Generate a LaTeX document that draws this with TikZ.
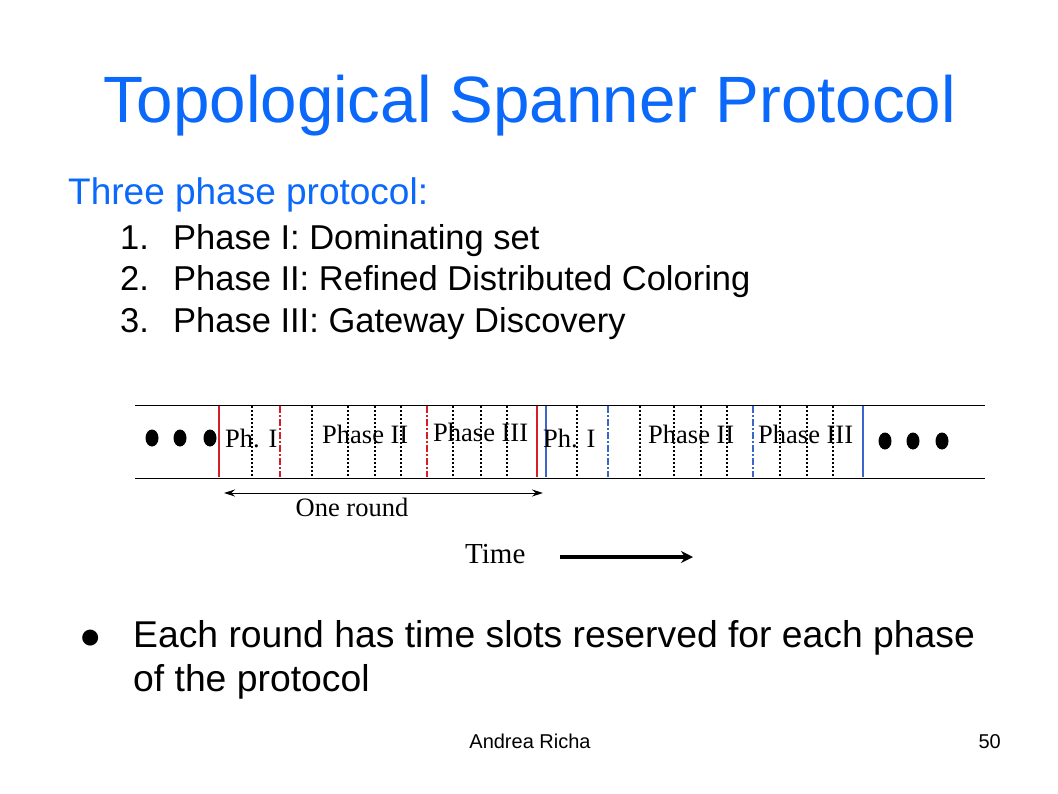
\documentclass[tikz,border=0pt]{standalone}
\usepackage{fontspec}
\setmainfont{Liberation Sans}
\newfontfamily\tnr{Liberation Serif}
\usetikzlibrary{arrows.meta}
\definecolor{titleblue}{RGB}{10,104,250}
\definecolor{lred}{RGB}{214,30,40}
\definecolor{lblue}{RGB}{60,100,205}
\begin{document}
\begin{tikzpicture}[x=1pt,y=-1pt,
  txt/.style={inner sep=0pt, anchor=base west},
  ctxt/.style={inner sep=0pt, anchor=base},
  railline/.style={line width=1pt, black},
  dotline/.style={line width=1.8pt, black, dash pattern=on 2pt off 2pt},
  redsolid/.style={line width=1.6pt, lred},
  reddash/.style={line width=1.6pt, lred, dash pattern=on 7pt off 2pt on 2pt off 2pt},
  bluesolid/.style={line width=1.6pt, lblue},
  bluedash/.style={line width=1.6pt, lblue, dash pattern=on 7pt off 2pt on 2pt off 2pt},
  phlabel/.style={txt, font=\tnr\fontsize{26.5}{30}\selectfont},
  listfont/.style={font=\fontsize{34.5}{41}\selectfont},
]
\useasboundingbox (0,0) rectangle (1058,793);
\fill[white] (0,0) rectangle (1058,793);

% title
\node[ctxt, text=titleblue, font=\fontsize{65.5}{78}\selectfont] (title) at (530,122) {Topological Spanner Protocol};

% intro
\node[txt, text=titleblue, font=\fontsize{37}{44}\selectfont] (intro) at (68,204) {Three phase protocol:};
\foreach \n/\t/\y in {1/{Phase I: Dominating set}/249, 2/{Phase II: Refined Distributed Coloring}/290, 3/{Phase III: Gateway Discovery}/332}{
  \node[txt, listfont] (num\n) at (120,\y) {\n.};
  \node[txt, listfont] (item\n) at (173,\y) {\t};
}

% timeline rails
\coordinate (tl) at (135,405); \coordinate (tr) at (985,405);
\coordinate (bl) at (135,478); \coordinate (br) at (985,478);
\draw[railline] (tl) -- (tr);
\draw[railline] (bl) -- (br);

% dotted slot separators
\foreach \x in {252,312,348,375,401,453,481,507,577,640,674,701,727,780,807,833}{
  \coordinate (dt\x) at (\x,406); \coordinate (db\x) at (\x,477);
  \draw[dotline] (dt\x) -- (db\x);
}
% phase boundaries
\coordinate (r1t) at (219,406); \coordinate (r1b) at (219,477);
\coordinate (r2t) at (537,406); \coordinate (r2b) at (537,477);
\draw[redsolid] (r1t) -- (r1b);
\draw[redsolid] (r2t) -- (r2b);
\coordinate (rd1t) at (280,406); \coordinate (rd1b) at (280,477);
\coordinate (rd2t) at (427,406); \coordinate (rd2b) at (427,477);
\draw[reddash] (rd1t) -- (rd1b);
\draw[reddash] (rd2t) -- (rd2b);
\coordinate (b1t) at (546,406); \coordinate (b1b) at (546,477);
\coordinate (b2t) at (863,406); \coordinate (b2b) at (863,477);
\draw[bluesolid] (b1t) -- (b1b);
\draw[bluesolid] (b2t) -- (b2b);
\coordinate (bd1t) at (608,406); \coordinate (bd1b) at (608,477);
\coordinate (bd2t) at (753,406); \coordinate (bd2b) at (753,477);
\draw[bluedash] (bd1t) -- (bd1b);
\draw[bluedash] (bd2t) -- (bd2b);

% ellipsis dots
\foreach \i/\x/\y in {1/152/438, 2/180/438, 3/210/438, 4/885/441, 5/913/441, 6/942/441}{
  \fill (\x,\y) ellipse [x radius=6.5, y radius=8.5];
}

% phase labels
\node[phlabel] (ph1a) at (225,447) {Ph. I};
\node[phlabel] (ph2a) at (322,443) {Phase II};
\node[phlabel] (ph3a) at (433,441) {Phase III};
\node[phlabel] (ph1b) at (543,447) {Ph. I};
\node[phlabel] (ph2b) at (648,443) {Phase II};
\node[phlabel] (ph3b) at (758,443) {Phase III};

% one round arrow
\coordinate (ra) at (224,493); \coordinate (rb) at (543,493);
\draw[line width=1pt, {Stealth[length=11pt,width=7pt]}-{Stealth[length=11pt,width=7pt]}] (ra) -- (rb);
\node[ctxt, font=\tnr\fontsize{26.5}{30}\selectfont] (oneround) at (352,516) {One round};

% time arrow
\node[txt, font=\tnr\fontsize{29}{34}\selectfont] (time) at (465,563) {Time};
\coordinate (ta) at (560,557); \coordinate (tb) at (693,557);
\draw[line width=3.2pt, -{Stealth[length=12pt,width=12pt]}] (ta) -- (tb);

% bullet
\node[txt, font=\fontsize{37}{44}\selectfont] (bul) at (79,648) {●};
\node[txt, font=\fontsize{37.3}{44}\selectfont] (b1) at (133,647) {Each round has time slots reserved for each phase};
\node[txt, font=\fontsize{37.3}{44}\selectfont] (b2) at (133,691) {of the protocol};

% footer
\node[ctxt, font=\fontsize{20}{24}\selectfont] (author) at (530,748) {Andrea Richa};
\node[txt, anchor=base east, font=\fontsize{20}{24}\selectfont] (page) at (1001,748) {50};
\end{tikzpicture}
\end{document}
